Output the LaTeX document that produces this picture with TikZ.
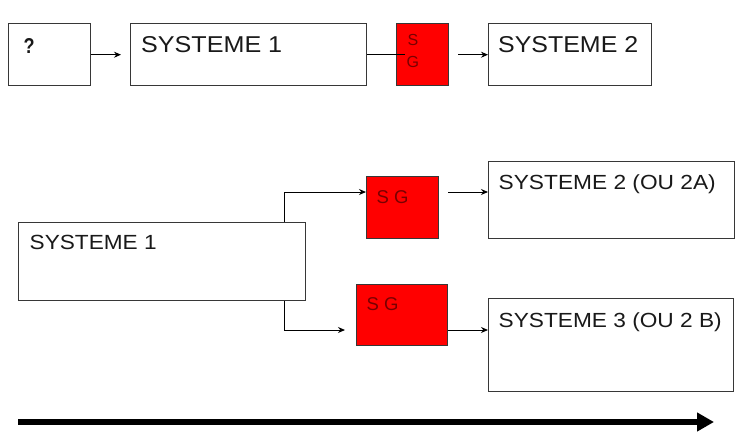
\documentclass[tikz,border=0pt]{standalone}
\usepackage{fontspec}
\setmainfont{Liberation Sans}
\usetikzlibrary{arrows.meta,calc}
\definecolor{boxline}{RGB}{55,55,55}
\definecolor{sgtext}{RGB}{120,0,0}
\definecolor{txt}{RGB}{25,25,25}
\newcommand{\fitto}[3]{\resizebox{#1}{#2}{#3}}
\begin{document}
\begin{tikzpicture}[x=1pt,y=-1pt,
  sysbox/.style={draw=boxline,line width=1.4pt,fill=white,rectangle,anchor=north west,inner sep=0pt},
  sgbox/.style={draw=boxline,line width=1.4pt,fill=red,rectangle,anchor=north west,inner sep=0pt},
  lbl/.style={anchor=base west,inner sep=0pt,text=txt},
  sglbl/.style={anchor=base west,inner sep=0pt,text=sgtext},
  conn/.style={draw=black,line width=1pt},
  arr/.style={conn,-{Stealth[length=7pt,width=6pt]}},
  bigarr/.style={draw=black,line width=6pt,-{Triangle[length=17pt,width=18pt]}}
]
\useasboundingbox (0,0) rectangle (755,445);
% top row
\node[sysbox,minimum width=82pt,minimum height=62pt] (q) at (8,23) {};
\node[sysbox,minimum width=236pt,minimum height=62pt] (s1) at (130,23) {};
\node[sgbox,minimum width=52pt,minimum height=62pt] (sg1) at (396,23) {};
\node[sysbox,minimum width=163pt,minimum height=62pt] (s2) at (488,23) {};
\node[anchor=base west,inner sep=0pt,text=txt] (tq) at (23.5,53) {\fitto{11pt}{15pt}{\bfseries ?}};
\node[lbl] (t1) at (141,52.7) {\fitto{141pt}{16pt}{SYSTEME 1}};
\node[lbl] (t2) at (498,52.7) {\fitto{140pt}{16pt}{SYSTEME 2}};
\node[sglbl,font=\fontsize{16}{16}\selectfont] (tsg1s) at (407.5,45.5) {S};
\node[sglbl,font=\fontsize{16}{16}\selectfont] (tsg1g) at (406.5,67) {G};
\draw[arr] (q.east) -- ([xshift=-9pt]s1.west);
\draw[conn] (s1.east) -- ([xshift=9pt]sg1.west);
\draw[arr] ([xshift=9pt]sg1.east) -- (s2.west);
% lower part
\node[sysbox,minimum width=287pt,minimum height=78pt] (s1b) at (18,222) {};
\node[sgbox,minimum width=72pt,minimum height=62pt] (sga) at (366,176) {};
\node[sgbox,minimum width=91pt,minimum height=61pt] (sgb) at (356,284) {};
\node[sysbox,minimum width=246pt,minimum height=77pt] (s2a) at (488,161) {};
\node[sysbox,minimum width=245pt,minimum height=93pt] (s3b) at (488,298) {};
\node[lbl] (t1b) at (29.5,249.7) {\fitto{127pt}{14.3pt}{SYSTEME 1}};
\node[lbl] (t2a) at (498.5,189) {\fitto{217pt}{14.8pt}{SYSTEME 2 (OU 2A)}};
\node[lbl] (t3b) at (498.5,327) {\fitto{223pt}{14.8pt}{SYSTEME 3 (OU 2 B)}};
\node[sglbl,font=\fontsize{18.5}{18.5}\selectfont] (tsga) at (376.5,203) {S G};
\node[sglbl,font=\fontsize{18.5}{18.5}\selectfont] (tsgb) at (366.5,310) {S G};
\coordinate (b1) at (284,192);
\coordinate (b2) at (284,330);
\draw[arr] (b1 |- s1b.north) -- (b1) -- (b1 -| sga.west);
\draw[arr] ($(b1 -| sga.east)+(9,0)$) -- (b1 -| s2a.west);
\draw[arr] (b2 |- s1b.south) -- (b2) -- ($(b2 -| sgb.west)+(-11,0)$);
\draw[arr] (b2 -| sgb.east) -- (b2 -| s3b.west);
% time arrow
\coordinate (ta) at (18,422);
\coordinate (tb) at (714,422);
\draw[bigarr] (ta) -- (tb);
\end{tikzpicture}
\end{document}
